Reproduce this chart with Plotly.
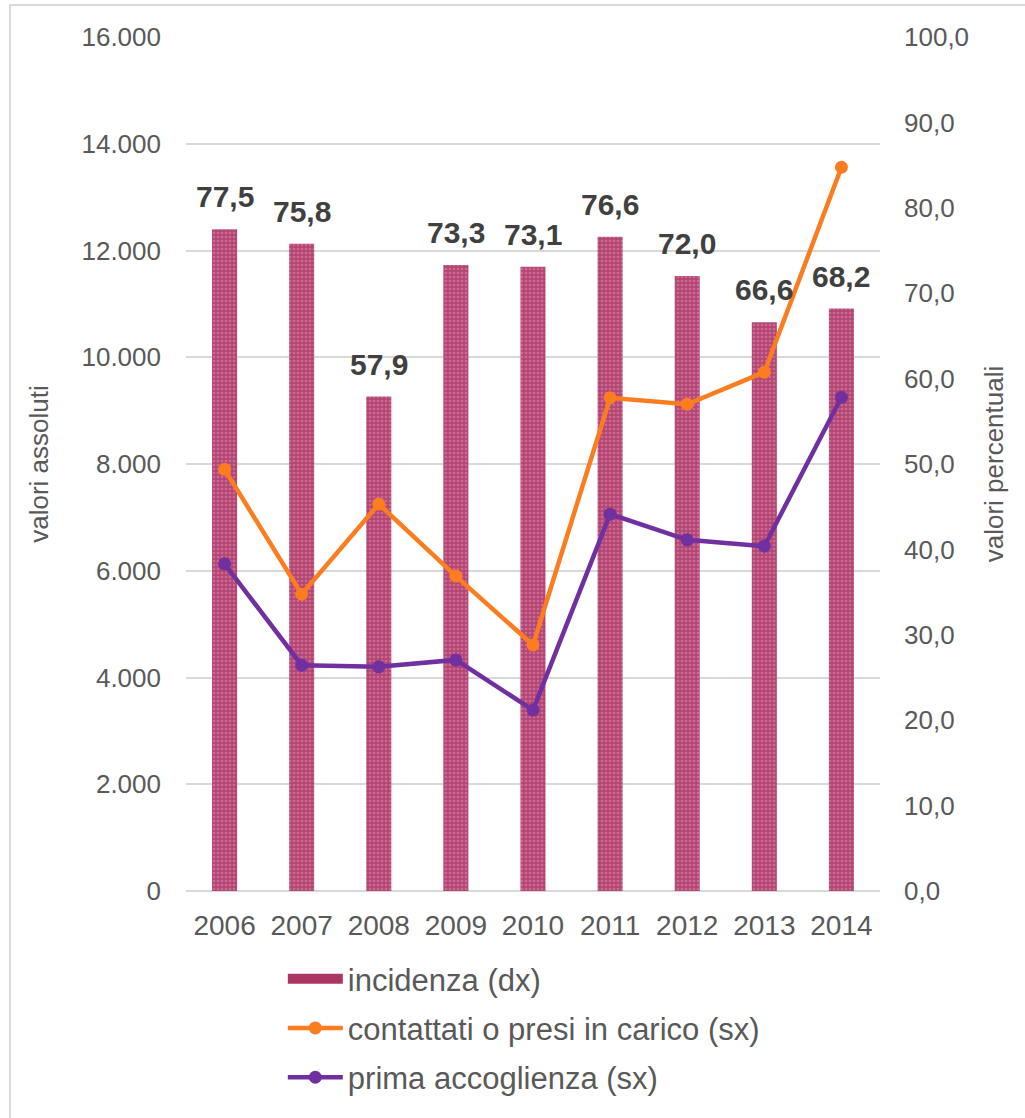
import plotly.graph_objects as go

years = ["2006", "2007", "2008", "2009", "2010", "2011", "2012", "2013", "2014"]
incidenza = [77.5, 75.8, 57.9, 73.3, 73.1, 76.6, 72.0, 66.6, 68.2]
contattati = [7900, 5560, 7250, 5900, 4610, 9240, 9120, 9720, 13560]
prima_accoglienza = [6130, 4230, 4200, 4330, 3390, 7060, 6580, 6460, 9250]

left_ticks = list(range(0, 16001, 2000))
right_ticks = list(range(0, 101, 10))

FONT = "Liberation Sans, Arial, sans-serif"
GRAY = "#595959"
BAR_FG = "#951a4b"
BAR_BG = "#cc6a93"

fig = go.Figure()
# bars on primary axis (right side, percent)
fig.add_trace(go.Bar(
    x=years, y=incidenza, name="incidenza (dx)", yaxis="y",
    marker=dict(color=BAR_BG,
                pattern=dict(shape="+", fgcolor=BAR_FG, bgcolor=BAR_BG,
                             size=4, solidity=0.6),
                line=dict(width=0)),
    showlegend=False, legendgroup="a",
))
# legend entry for the bars (wide swatch)
fig.add_trace(go.Scatter(
    x=[years[0]], y=[None], name="incidenza (dx)", yaxis="y",
    mode="lines", line=dict(color="#ab3563", width=10),
    legendgroup="a", showlegend=True, hoverinfo="skip",
))
fig.add_trace(go.Scatter(
    x=years, y=contattati, name="contattati o presi in carico (sx)", yaxis="y2",
    mode="lines+markers", line=dict(color="#fb7d1f", width=4.5),
    marker=dict(size=13, color="#fb7d1f"), legendgroup="b",
))
fig.add_trace(go.Scatter(
    x=years, y=prima_accoglienza, name="prima accoglienza (sx)", yaxis="y2",
    mode="lines+markers", line=dict(color="#7030a0", width=4.5),
    marker=dict(size=13, color="#7030a0"), legendgroup="c",
))

annotations = [
    dict(x=i, y=v, xref="x", yref="y", text="<b>" + f"{v:.1f}".replace(".", ",") + "</b>",
         showarrow=False, yanchor="bottom", yshift=14,
         font=dict(size=30, color="#404040", family=FONT))
    for i, v in enumerate(incidenza)
]

fig.update_layout(
    width=1025, height=1118,
    separators=",.",
    paper_bgcolor="white", plot_bgcolor="white",
    font=dict(family=FONT, color=GRAY, size=26),
    margin=dict(l=186, r=145, t=37, b=227),
    bargap=0.675,
    showlegend=True,
    hovermode=False,
    legend=dict(orientation="v", x=0.1395, xanchor="left", y=-0.0714, yanchor="top",
                font=dict(size=31, color=GRAY), itemwidth=55, tracegroupgap=6,
                traceorder="grouped"),
    xaxis=dict(type="category", categoryorder="array", categoryarray=years,
               range=[-0.5, len(years) - 0.5], autorange=False,
               showgrid=False, showline=False, ticks="", ticklabelstandoff=15,
               automargin=False, tickfont=dict(size=28, color=GRAY)),
    yaxis=dict(range=[0, 100], tickvals=right_ticks, tickformat=".1f",
               side="right", showgrid=False, zeroline=False,
               showline=False, ticks="", ticklabelstandoff=23, automargin=False,
               tickfont=dict(size=26, color=GRAY),
               title=dict(text="valori percentuali", font=dict(size=26, color=GRAY), standoff=16)),
    yaxis2=dict(range=[0, 16000], tickvals=left_ticks, tickformat=",d",
                overlaying="y", side="left",
                showgrid=True, gridcolor="#d9d9d9", gridwidth=1.5,
                zeroline=True, zerolinecolor="#d9d9d9", zerolinewidth=1.5,
                showline=False, ticks="", ticklabelstandoff=24, automargin=False,
                tickfont=dict(size=26, color=GRAY),
                title=dict(text="valori assoluti", font=dict(size=26, color=GRAY), standoff=25)),
    annotations=annotations,
    shapes=[dict(type="path", xref="paper", yref="paper",
                 path="M 1.25,1.0375 L -0.2536,1.0375 L -0.2536,-0.4",
                 line=dict(color="#d9d9d9", width=2), layer="below")],
)

fig.write_html("out.html", config={"displayModeBar": False},
               post_script="document.body.style.margin='0px';")
